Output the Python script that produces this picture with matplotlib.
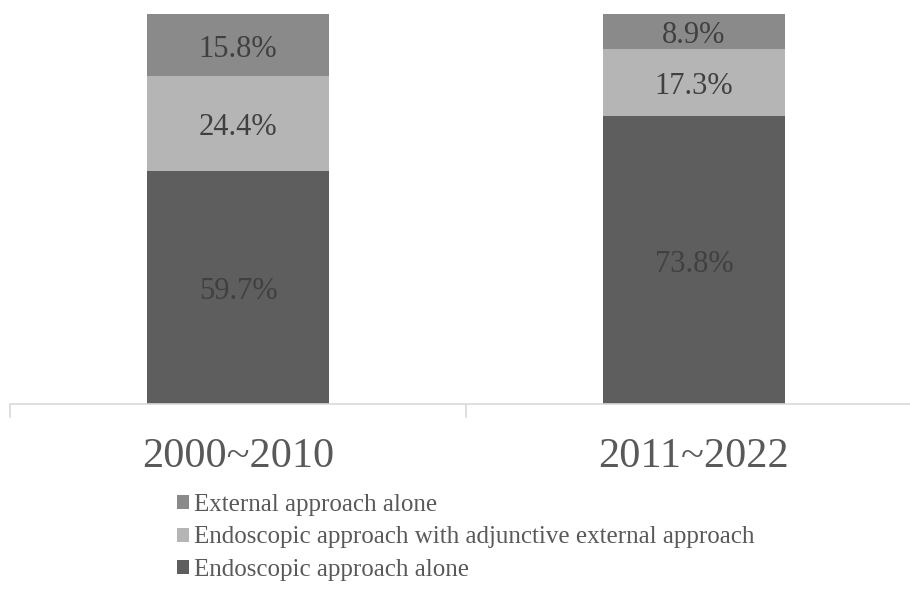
import matplotlib
matplotlib.use("Agg")
import matplotlib.pyplot as plt
from matplotlib.patches import Patch
import numpy as np

categories = ["2000~2010", "2011~2022"]
series_names = ["Endoscopic approach alone",
                "Endoscopic approach with adjunctive external approach",
                "External approach alone"]
endo_alone = [59.7, 73.8]
endo_adjunct = [24.4, 17.3]
external_alone = [15.8, 8.9]
series_values = [endo_alone, endo_adjunct, external_alone]
series_colors = ["#5e5e5e", "#b5b5b5", "#8a8a8a"]

plt.rcParams['font.family'] = ['Liberation Serif', 'DejaVu Serif']

W, H = 910, 606
fig = plt.figure(figsize=(W / 100, H / 100), dpi=100)
ax_left, ax_right, ax_top, ax_bottom = 10, 922, 14, 404
ax = fig.add_axes([ax_left / W, 1 - ax_bottom / H,
                   (ax_right - ax_left) / W, (ax_bottom - ax_top) / H])

x = np.arange(len(categories))
bottom = np.zeros(len(categories))
for name, vals, col in zip(series_names, series_values, series_colors):
    vals = np.array(vals)
    ax.bar(x, vals, width=0.4, bottom=bottom, color=col, label=name,
           edgecolor='none')
    for xi, b, v in zip(x, bottom, vals):
        ax.annotate(f"{v:.1f}%", (xi, b + v / 2), xytext=(0, -3),
                    textcoords='offset points', ha='center', va='center',
                    fontsize=22, color='#404040')
    bottom += vals

ax.set_xlim(-0.5, len(categories) - 0.5)
ax.set_ylim(0, 100)
for s in ['top', 'right', 'left']:
    ax.spines[s].set_visible(False)
ax.spines['bottom'].set_color('#d9d9d9')
ax.spines['bottom'].set_linewidth(1.2)
ax.set_yticks([])
ax.set_xticks(np.arange(len(categories) + 1) - 0.5)
ax.set_xticklabels([])
ax.set_xticks(x, minor=True)
ax.set_xticklabels(categories, minor=True, fontsize=30.5, color='#595959')
ax.tick_params(axis='x', which='major', length=10, color='#d9d9d9', width=1.2)
ax.tick_params(axis='x', which='minor', length=0, pad=24)

handles = [Patch(facecolor=c, edgecolor='none') for c in series_colors][::-1]
labels = series_names[::-1]
leg = fig.legend(handles, labels, loc='upper left',
                 bbox_to_anchor=(177 / W, 1 - 494 / H),
                 frameon=False, fontsize=18, borderpad=0, borderaxespad=0,
                 handlelength=0.48, handleheight=0.48, handletextpad=0.22,
                 labelspacing=0.42)
for t in leg.get_texts():
    t.set_color('#595959')

fig.savefig("out.png", dpi=100)
